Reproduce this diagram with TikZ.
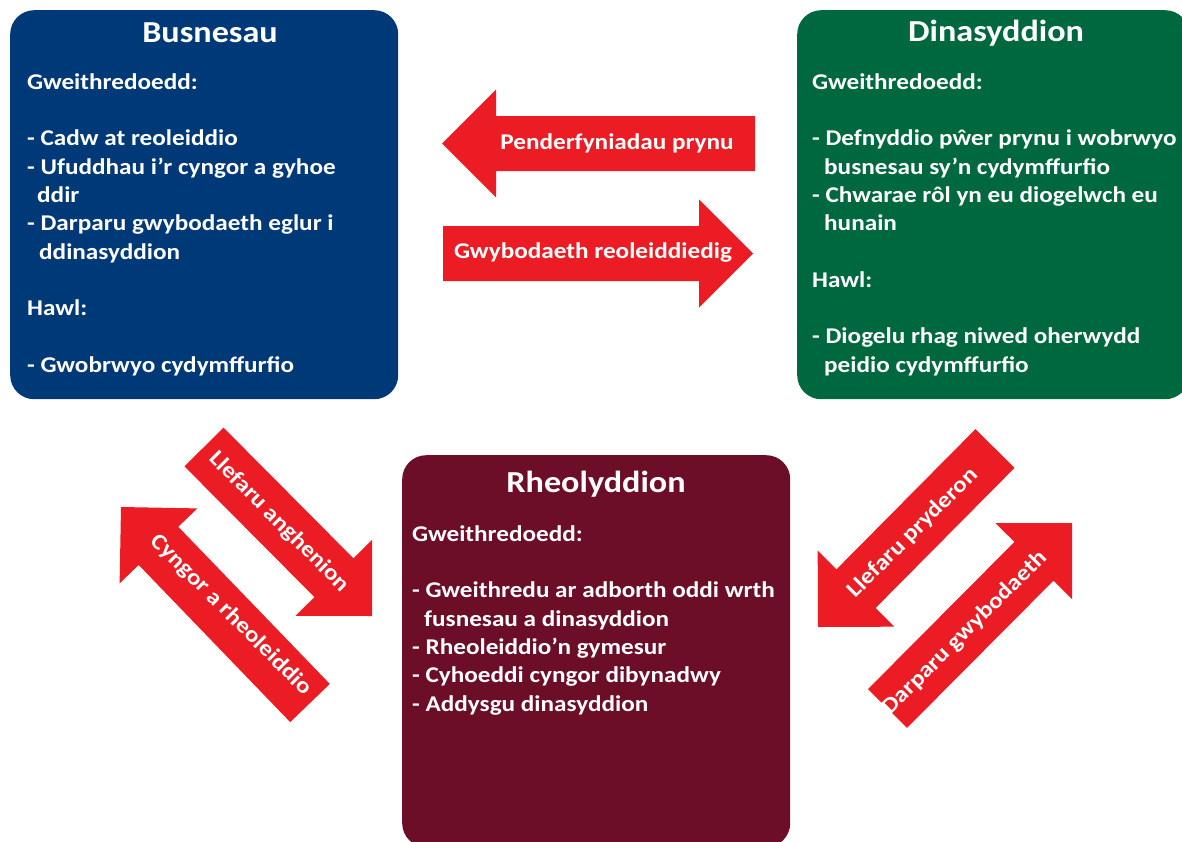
\documentclass[tikz,border=0pt]{standalone}
\usepackage{fontspec}
\setmainfont{Carlito}[FakeStretch=1.12]
\usetikzlibrary{calc}
\definecolor{busblue}{RGB}{0,57,120}
\definecolor{dingreen}{RGB}{0,104,62}
\definecolor{rhmaroon}{RGB}{108,14,40}
\definecolor{arrred}{RGB}{236,28,36}
\newcommand\blockarrow[2]{%
  \fill[arrfill]
    ($(#1)!27.5pt!90:(#2)$) --
    ($($(#2)!54pt!(#1)$)!27.5pt!90:(#2)$) --
    ($($(#2)!54pt!(#1)$)!54pt!90:(#2)$) --
    (#2) --
    ($($(#2)!54pt!(#1)$)!54pt!-90:(#2)$) --
    ($($(#2)!54pt!(#1)$)!27.5pt!-90:(#2)$) --
    ($(#1)!27.5pt!-90:(#2)$) -- cycle;}
\begin{document}
\begin{tikzpicture}[x=1pt,y=-1pt,
  box/.style={fill=#1, rounded corners=24pt, minimum width=388pt, minimum height=389pt, anchor=north west, inner sep=0pt},
  title/.style={text=white, font=\bfseries\fontsize{30.5}{36}\selectfont, inner sep=0pt},
  body/.style={text=white, font=\bfseries\fontsize{22.5}{28.3}\selectfont, align=left, anchor=north west, inner sep=0pt},
  arrlabel/.style={text=white, font=\bfseries\fontsize{22.5}{28}\selectfont, inner sep=0pt},
  arrfill/.style={fill=arrred}]
\useasboundingbox (0,0) rectangle (1182,841);

% boxes
\node[box=busblue] (bus) at (10,10) {};
\node[box=dingreen, minimum width=392pt] (din) at (797,10) {};
\node[box=rhmaroon, minimum height=392pt] (rhe) at (402,455) {};

% titles
\node[title] (bust) at (210,33) {Busnesau};
\node[title] (dint) at (996,33) {Dinasyddion};
\node[title] (rhet) at (596,484) {Rheolyddion};

% body texts
\node[body] (busb) at (27,69.2) {\strut Gweithredoedd:\\[28.3pt]
- Cadw at reoleiddio\\
- Ufuddhau i’r cyngor a gyhoe\\
\hspace{10pt}ddir\\
- Darparu gwybodaeth eglur i\\
\hspace{12pt}ddinasyddion\\[28.3pt]
Hawl:\\[28.3pt]
- Gwobrwyo cydymffurfio};

\node[body] (dinb) at (812,69.2) {\strut Gweithredoedd:\\[28.3pt]
- Defnyddio pŵer prynu i wobrwyo\\
\hspace{12pt}busnesau sy’n cydymffurfio\\
- Chwarae rôl yn eu diogelwch eu\\
\hspace{12pt}hunain\\[28.3pt]
Hawl:\\[28.3pt]
- Diogelu rhag niwed oherwydd\\
\hspace{12pt}peidio cydymffurfio};

\node[body] (rheb) at (412,521.2) {\strut Gweithredoedd:\\[28.3pt]
- Gweithredu ar adborth oddi wrth\\
\hspace{12pt}fusnesau a dinasyddion\\
- Rheoleiddio’n gymesur\\
- Cyhoeddi cyngor dibynadwy\\
- Addysgu dinasyddion};

% arrow end points
\coordinate (a1s) at (755,143.5);
\coordinate (a1e) at (442,143.5);
\coordinate (a2s) at (443,253.5);
\coordinate (a2e) at (753,253.5);
\coordinate (a3s) at (204,447);
\coordinate (a3e) at (372,616);
\coordinate (a4s) at (310,703);
\coordinate (a4e) at (121,507);
\coordinate (a5s) at (995,448.5);
\coordinate (a5e) at (818,627);
\coordinate (a6s) at (887.5,708.5);
\coordinate (a6e) at (1072,523);

\blockarrow{a1s}{a1e}
\blockarrow{a2s}{a2e}
\blockarrow{a3s}{a3e}
\blockarrow{a4s}{a4e}
\blockarrow{a5s}{a5e}
\blockarrow{a6s}{a6e}

% arrow labels
\node[arrlabel] (l1) at (617,143) {Penderfyniadau prynu};
\node[arrlabel] (l2) at (593,253) {Gwybodaeth reoleiddiedig};
\node[arrlabel, rotate=-45] (l3) at (279,522) {Llefaru anghenion};
\node[arrlabel, rotate=-45] (l4) at (231,615) {Cyngor a rheoleiddio};
\node[arrlabel, rotate=45] (l5) at (913,533) {Llefaru pryderon};
\node[arrlabel, rotate=45] (l6) at (965,633) {Darparu gwybodaeth};
\end{tikzpicture}
\end{document}
